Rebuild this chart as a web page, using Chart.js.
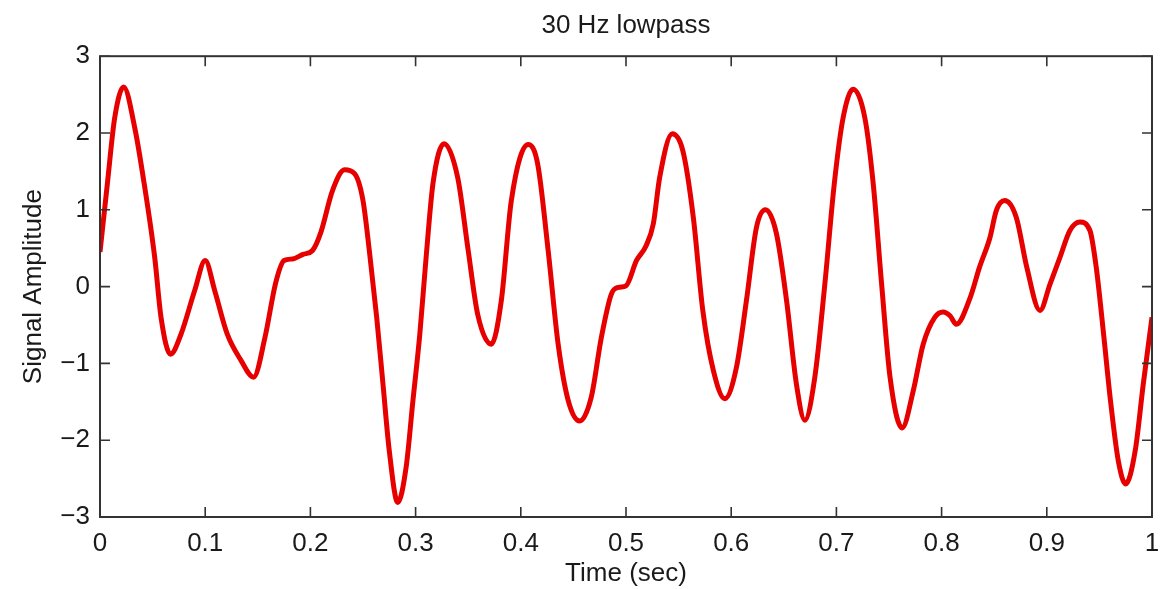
<!DOCTYPE html>
<html>
<head>
<meta charset="utf-8">
<title>30 Hz lowpass</title>
<script src="https://cdn.jsdelivr.net/npm/chart.js@4.4.1/dist/chart.umd.min.js"></script>
<style>
    html, body { margin: 0; padding: 0; background: #fff; }
    #wrap { width: 1174px; height: 589px; position: relative; }
</style>
</head>
<body>
<div id="wrap"><canvas id="signalChart"></canvas></div>
<script>
// Signal: time (sec) and amplitude
const timeSec = [
    0.000, 0.007, 0.014, 0.0225, 0.033, 0.042, 0.052, 0.058, 0.067, 0.077,
    0.090, 0.100, 0.109, 0.121, 0.134, 0.146, 0.157, 0.167, 0.175, 0.183,
    0.193, 0.202, 0.210, 0.221, 0.2325, 0.242, 0.250, 0.256, 0.263, 0.269,
    0.275, 0.283, 0.291, 0.2975, 0.304, 0.310, 0.3165, 0.327, 0.340, 0.350,
    0.359, 0.372, 0.3815, 0.391, 0.407, 0.416, 0.426, 0.4355, 0.445, 0.456,
    0.467, 0.4766, 0.486, 0.493, 0.500, 0.510, 0.519, 0.526, 0.532, 0.544,
    0.554, 0.564, 0.573, 0.583, 0.594, 0.605, 0.6145, 0.624, 0.6326, 0.643,
    0.6526, 0.662, 0.670, 0.6795, 0.689, 0.698, 0.7064, 0.716, 0.727, 0.735,
    0.743, 0.751, 0.7625, 0.773, 0.7825, 0.7935, 0.8015, 0.808, 0.814, 0.827,
    0.836, 0.846, 0.852, 0.860, 0.871, 0.881, 0.8935, 0.903, 0.9125, 0.922,
    0.9315, 0.941, 0.947, 0.954, 0.9605, 0.968, 0.975, 0.984, 0.9917, 1.000
];
const amplitude = [
    0.45, 1.34, 2.20, 2.60, 2.07, 1.34, 0.38, -0.40, -0.88, -0.62,
    -0.05, 0.34, -0.05, -0.62, -0.96, -1.18, -0.65, 0.05, 0.34, 0.36,
    0.42, 0.47, 0.71, 1.25, 1.52, 1.47, 1.12, 0.47, -0.40, -1.27,
    -2.14, -2.81, -2.35, -1.48, -0.62, 0.38, 1.34, 1.86, 1.42, 0.47,
    -0.36, -0.75, -0.18, 1.12, 1.85, 1.60, 0.47, -0.75, -1.48, -1.75,
    -1.44, -0.66, -0.10, -0.01, 0.01, 0.34, 0.53, 0.82, 1.42, 1.99,
    1.77, 0.90, -0.31, -1.09, -1.46, -1.05, -0.18, 0.77, 1.00, 0.69,
    -0.18, -1.27, -1.74, -1.18, 0.03, 1.34, 2.20, 2.57, 2.20, 1.34,
    0.03, -1.18, -1.84, -1.36, -0.75, -0.40, -0.33, -0.38, -0.49, -0.15,
    0.25, 0.64, 0.99, 1.12, 0.90, 0.25, -0.31, 0.03, 0.38, 0.73,
    0.84, 0.73, 0.25, -0.62, -1.48, -2.27, -2.57, -2.14, -1.27, -0.40
];

const xTickLabels = ['0', '0.1', '0.2', '0.3', '0.4', '0.5', '0.6', '0.7', '0.8', '0.9', '1'];
const yTickLabels = ['\u22123', '\u22122', '\u22121', '0', '1', '2', '3'];

const FONT = '"Liberation Sans", Arial, Helvetica, sans-serif';
const INK = '#1a1a1a';

document.addEventListener('DOMContentLoaded', () => {
    const canvas = document.getElementById('signalChart');

    // Box round the plot with inward tick marks on every side
    const frameTicks = {
        id: 'frameTicks',
        afterDraw(chart) {
            const { ctx, chartArea: a, scales: { x, y } } = chart;
            const len = 10;
            ctx.save();
            ctx.strokeStyle = '#333';
            ctx.lineWidth = 1.6;
            ctx.beginPath();
            x.ticks.forEach(t => {
                const px = x.getPixelForValue(t.value);
                ctx.moveTo(px, a.bottom); ctx.lineTo(px, a.bottom - len);
                ctx.moveTo(px, a.top); ctx.lineTo(px, a.top + len);
            });
            y.ticks.forEach(t => {
                const py = y.getPixelForValue(t.value);
                ctx.moveTo(a.left, py); ctx.lineTo(a.left + len, py);
                ctx.moveTo(a.right, py); ctx.lineTo(a.right - len, py);
            });
            ctx.stroke();
            ctx.lineWidth = 2;
            ctx.strokeRect(a.left, a.top, a.right - a.left, a.bottom - a.top);
            ctx.restore();
        }
    };

    new Chart(canvas, {
        type: 'line',
        data: {
            datasets: [{
                label: 'Signal',
                data: timeSec.map((t, i) => ({ x: t, y: amplitude[i] })),
                borderColor: '#e60000',
                borderWidth: 5,
                pointRadius: 0,
                fill: false,
                cubicInterpolationMode: 'monotone',
            }],
        },
        options: {
            responsive: true,
            maintainAspectRatio: false,
            animation: false,
            layout: { padding: { left: 0, right: 22, top: 0, bottom: 0 } },
            plugins: {
                legend: { display: false },
                tooltip: { enabled: false },
                title: {
                    display: true,
                    fullSize: false,
                    text: '30 Hz lowpass',
                    color: INK,
                    font: { family: FONT, size: 26, weight: 'normal' },
                    padding: { top: 10, bottom: 15 },
                },
            },
            scales: {
                x: {
                    type: 'linear',
                    min: 0,
                    max: 1,
                    grid: { display: false, drawTicks: false },
                    border: { display: false },
                    ticks: {
                        stepSize: 0.1,
                        padding: 11,
                        color: INK,
                        font: { family: FONT, size: 26 },
                        maxRotation: 0,
                        autoSkip: false,
                        callback: (value, index) => xTickLabels[index],
                    },
                    title: {
                        display: true,
                        text: 'Time (sec)',
                        color: INK,
                        font: { family: FONT, size: 26 },
                        padding: { top: 0, bottom: 0 },
                    },
                    afterFit: (scale) => { scale.height = 72; },
                },
                y: {
                    min: -3,
                    max: 3,
                    grid: { display: false, drawTicks: false },
                    border: { display: false },
                    ticks: {
                        stepSize: 1,
                        padding: 10,
                        color: INK,
                        font: { family: FONT, size: 26 },
                        callback: (value, index) => yTickLabels[index],
                    },
                    title: {
                        display: true,
                        text: 'Signal Amplitude',
                        color: INK,
                        font: { family: FONT, size: 26 },
                        padding: { top: 18, bottom: 0 },
                    },
                    afterFit: (scale) => { scale.width = 100; },
                },
            },
        },
        plugins: [frameTicks],
    });
});
</script>
</body>
</html>
